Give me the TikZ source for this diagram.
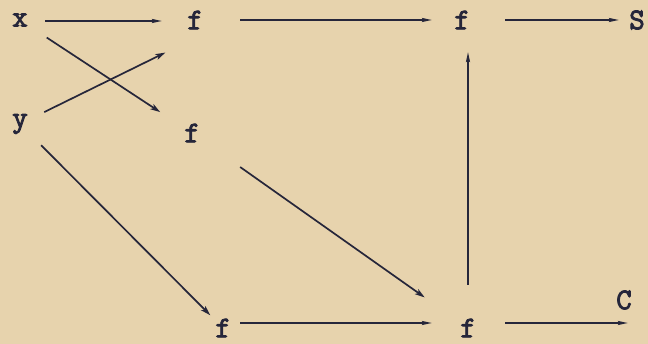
\documentclass[tikz,border=0pt]{standalone}
\usepackage{fontspec}
\newfontfamily\twfont{Latin Modern Mono}[FakeBold=3]
\usetikzlibrary{arrows.meta}
\definecolor{paper}{RGB}{231,211,173}
\definecolor{ink}{RGB}{38,38,58}
\tikzset{
  lbl/.style={inner sep=0pt, text=ink, font=\twfont\fontsize{30}{30}\selectfont},
  arr/.style={draw=ink, line width=1.7pt, -{Stealth[length=10pt,width=6pt,inset=2.5pt]}},
  arrh/.style={draw=ink, line width=1.7pt, -{Stealth[length=10pt,width=4pt,inset=1.5pt]}},
}
\begin{document}
\begin{tikzpicture}[x=1pt,y=-1pt]
\fill[paper] (0,0) rectangle (648,344);
\useasboundingbox (0,0) rectangle (648,344);
\node[lbl] (x)  at (20,20)  {x};
\node[lbl] (f1) at (195,20) {f};
\node[lbl] (f2) at (462,20) {f};
\node[lbl] (S)  at (637,20) {S};
\node[lbl] (y)  at (20,124) {y};
\node[lbl] (fm) at (192,133) {f};
\node[lbl] (f3) at (223,328) {f};
\node[lbl] (f4) at (468,328) {f};
\node[lbl] (C)  at (624,300) {C};
\coordinate (cend) at (628,323);
% connectors
\draw[arrh, shorten <=25pt, shorten >=33pt] ([yshift=-1pt]x.center) -- ([yshift=-1pt]f1.center);
\draw[arr, shorten <=32pt, shorten >=38pt] (x.center) -- (fm.center);
\draw[arr, shorten <=27pt, shorten >=33pt] (y.center) -- ([yshift=-18pt]f1.center);
\draw[arrh, shorten <=45pt, shorten >=30pt] (f1.center) -- (f2.center);
\draw[arrh, shorten <=43pt, shorten >=18pt] (f2.center) -- (S.center);
\draw[arrh, shorten <=43pt, shorten >=32pt] (f4.center) -- (f4.center |- f2.center);
\draw[arr, shorten <=59pt, shorten >=53pt] (fm.center) -- (f4.center);
\draw[arr, shorten <=30pt, shorten >=18pt] (y.center) -- (f3.center);
\draw[arrh, shorten <=17pt, shorten >=36pt] ([yshift=5pt]f3.center) -- ([yshift=5pt]f4.center);
\draw[arrh, shorten <=37pt] ([yshift=5pt]f4.center) -- (cend);
\end{tikzpicture}
\end{document}
